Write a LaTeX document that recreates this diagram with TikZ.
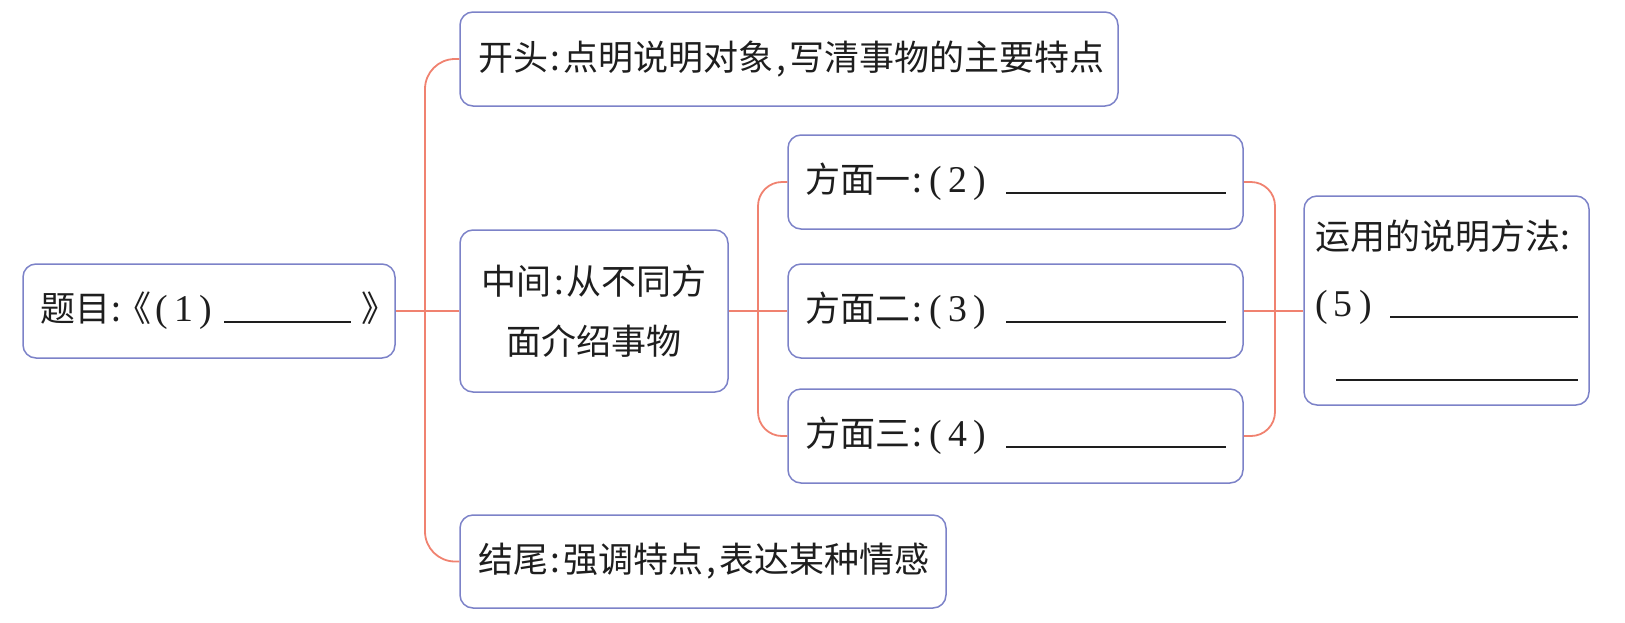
\documentclass[tikz,border=0pt]{standalone}
\usepackage{fontspec}
\setmainfont{Noto Sans CJK SC}
\newfontfamily\digitfont[Scale=1.08]{Liberation Serif}
\usepackage{xcolor}
\usepackage{tikz}

\definecolor{boxblue}{RGB}{124,130,200}
\definecolor{linkred}{RGB}{240,130,112}
\definecolor{inkgray}{RGB}{30,30,30}

\tikzset{
  mapbox/.style={draw=boxblue, line width=1.5pt, fill=white, rounded corners=13pt,
    text=inkgray, font=\fontsize{35}{60}\selectfont, inner ysep=0pt},
  link/.style={draw=linkred, line width=1.8pt}
}

\newcommand\blank[1]{\rule[-1pt]{#1pt}{1.4pt}}
\newcommand\numtag[1]{{\digitfont\kern4pt(\,#1\,)}}
\newcommand\punct[1]{\kern3pt#1\kern3pt}

\begin{document}
\begin{tikzpicture}[x=1pt, y=-1pt]
  \useasboundingbox (0,0) rectangle (1625,622);

  % title on the left
  \node[mapbox, minimum width=372pt, minimum height=94pt, text width=338pt, inner xsep=17pt, align=left]
    (theme) at (209,311) {题目\kern2pt:\kern-5pt《\numtag{1}\hfill\blank{127}\hspace{10pt}》\kern-18pt};

  % three parts of the text
  \node[mapbox, minimum width=658pt, minimum height=94pt, text width=622pt, inner xsep=18pt, align=left]
    (opening) at (789,59) {开头\punct{:}点明说明对象\punct{,}写清事物的主要特点};
  \node[mapbox, minimum width=268pt, minimum height=162pt, text width=240pt, inner xsep=14pt, align=center]
    (middle) at (594,311) {中间\punct{:}从不同方\\面介绍事物};
  \node[mapbox, minimum width=486pt, minimum height=93pt, text width=450pt, inner xsep=18pt, align=left]
    (ending) at (703,561.5) {结尾\punct{:}强调特点\punct{,}表达某种情感};

  % aspects
  \node[mapbox, minimum width=455pt, minimum height=94pt, text width=421pt, inner xsep=17pt, align=left]
    (aspectA) at (1015.5,182) {方面一\punct{:}\numtag{2}\hfill\blank{220}};
  \node[mapbox, minimum width=455pt, minimum height=94pt, text width=421pt, inner xsep=17pt, align=left]
    (aspectB) at (1015.5,311) {方面二\punct{:}\numtag{3}\hfill\blank{220}};
  \node[mapbox, minimum width=455pt, minimum height=94pt, text width=421pt, inner xsep=17pt, align=left]
    (aspectC) at (1015.5,436) {方面三\punct{:}\numtag{4}\hfill\blank{220}};

  % methods box
  \node[mapbox, minimum width=285pt, minimum height=209pt, text width=263pt, inner xsep=11pt, align=left,
    font=\fontsize{35}{63}\selectfont]
    (methods) at (1446.5,300.5) {运用的说明方法:\\\numtag{5}\hfill\blank{188}\\\hfill\blank{242}};

  % trunks
  \coordinate (trunkA) at (425,311);
  \coordinate (trunkB) at (758,311);
  \coordinate (trunkC) at (1275,311);

  % connectors
  \draw[link] (theme.east) -- (middle.west);
  \draw[link, rounded corners=30pt] (opening.west) -| (trunkA) |- (ending.west);
  \draw[link] (middle.east) -- (aspectB.west);
  \draw[link, rounded corners=24pt] (aspectA.west) -| (trunkB) |- (aspectC.west);
  \draw[link, rounded corners=24pt] (aspectA.east) -| (trunkC) |- (aspectC.east);
  \draw[link] (aspectB.east) -- (methods.west |- aspectB.east);
\end{tikzpicture}
\end{document}
